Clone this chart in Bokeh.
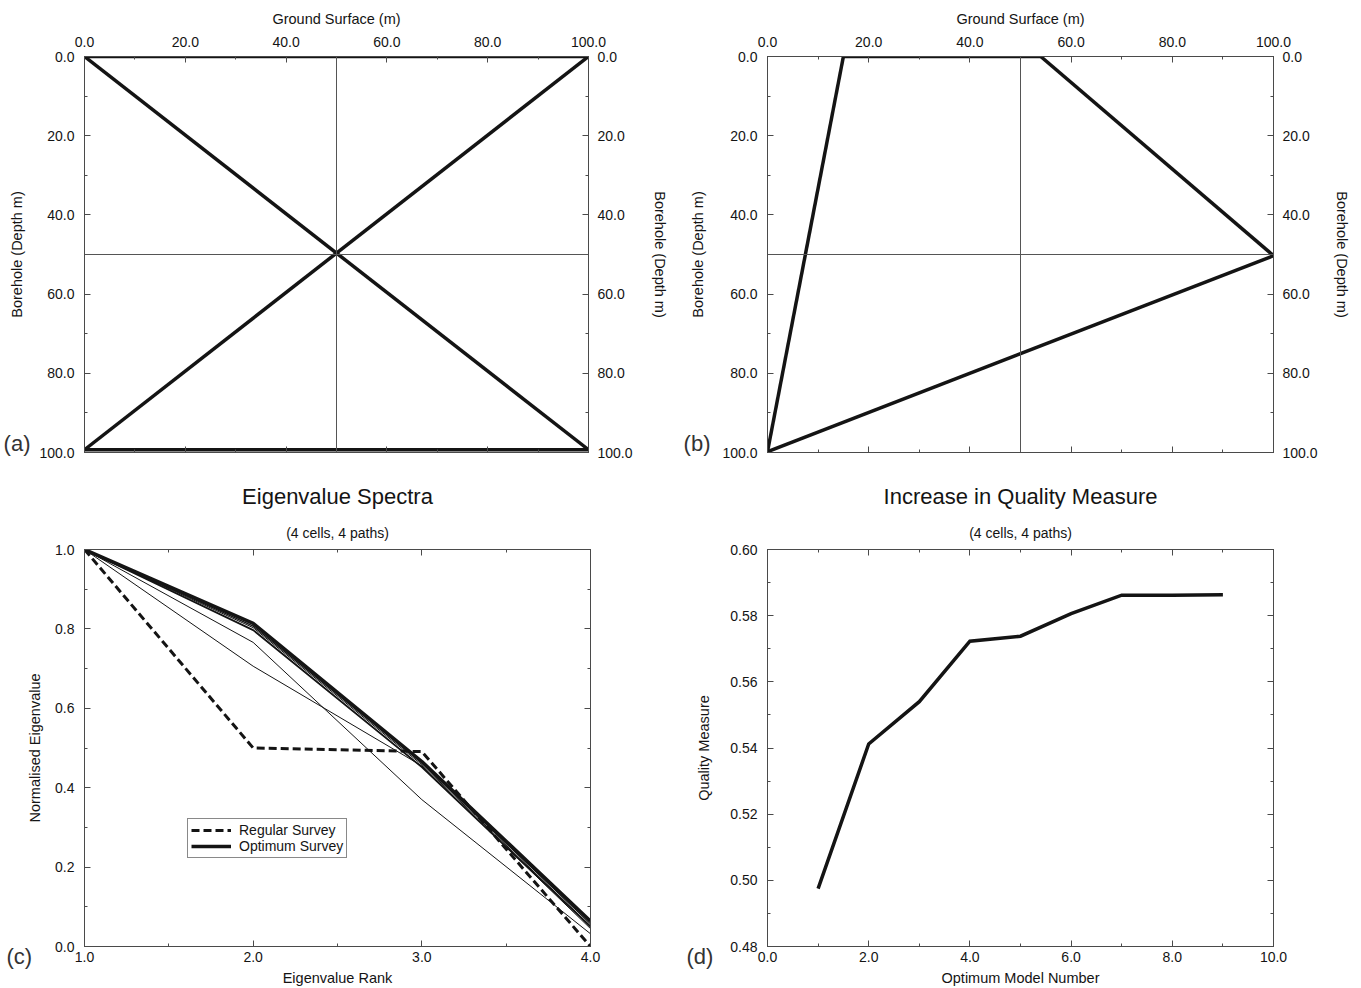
from bokeh.plotting import figure
from bokeh.models import (Range1d, LinearAxis, SingleIntervalTicker, FixedTicker, NumeralTickFormatter,
                          CustomJSTickFormatter, Span, Legend, LegendItem, Title)
from bokeh.layouts import row, column
from bokeh.embed import file_html
from bokeh.resources import INLINE

# ---------------- data ----------------
# panel (a): ray paths of the regular survey (ground surface x, depth y)
a_paths_x = [[0, 100], [0, 100], [100, 0], [0, 100]]
a_paths_y = [[0, 0], [0, 99.3], [0, 99.3], [99.3, 99.3]]
# panel (b): ray paths of the optimum survey
b_paths_x = [[15, 54], [15, 0], [54, 100], [100, 0]]
b_paths_y = [[0, 0], [0, 99.8], [0, 50.3], [50.3, 99.8]]
cell_boundary = 50

# panel (c): eigenvalue spectra
eig_rank = [1, 2, 3, 4]
regular_survey = [1.0, 0.500, 0.491, 0.000]
optimum_survey = [1.0, 0.814, 0.466, 0.064]
spectrum_1 = [1.0, 0.807, 0.462, 0.057]
spectrum_2 = [1.0, 0.803, 0.458, 0.052]
spectrum_3 = [1.0, 0.797, 0.452, 0.050]
spectrum_4 = [1.0, 0.766, 0.370, 0.032]
spectrum_5 = [1.0, 0.706, 0.455, 0.045]

# panel (d): quality measure
model_number = [1, 2, 3, 4, 5, 6, 7, 8, 9]
quality = [0.4975, 0.5412, 0.5540, 0.5723, 0.5738, 0.5806, 0.5862, 0.5862, 0.5863]

FONT = "Liberation Sans"
INK = "#141414"
AXC = "#4a4a4a"
LETTER_DEPTH = 97.7   # depth at which the panel letter sits, beside the left axis


def style_axis(ax, interval, fmt, labels=True, title=None, lstand=10, astand=10):
    ax.ticker = SingleIntervalTicker(interval=interval, num_minor_ticks=2)
    ax.major_tick_in = 6
    ax.major_tick_out = 0
    ax.minor_tick_in = 3
    ax.minor_tick_out = 0
    ax.axis_line_color = AXC
    ax.major_tick_line_color = AXC
    ax.minor_tick_line_color = AXC
    ax.major_label_text_font = FONT
    ax.major_label_text_font_size = "14px"
    ax.major_label_text_color = INK
    ax.major_label_standoff = lstand if labels else 0
    if labels:
        ax.formatter = NumeralTickFormatter(format=fmt)
    else:
        ax.formatter = CustomJSTickFormatter(code="return ''")
    if title:
        style_axis_label(ax, title, astand)


def style_axis_label(ax, title, astand):
    ax.axis_label = title
    ax.axis_label_text_font = FONT
    ax.axis_label_text_font_size = "14.5px"
    ax.axis_label_text_font_style = "normal"
    ax.axis_label_text_color = INK
    ax.axis_label_standoff = astand


def base_fig(w, h, xr, yr, xloc, borders):
    p = figure(width=w, height=h, x_range=xr, y_range=yr, x_axis_location=xloc,
               output_backend="svg", toolbar_location=None,
               min_border_left=borders[0], min_border_right=borders[1],
               min_border_top=borders[2], min_border_bottom=borders[3])
    p.grid.visible = False
    p.outline_line_color = AXC
    p.outline_line_width = 1
    p.background_fill_color = "white"
    p.border_fill_color = "white"
    return p


def survey_panel(w, borders, xs, ys, letter, letter_stand, label_stand, rstand):
    p = base_fig(w, 470, Range1d(0, 100), Range1d(100, 0), "above", borders)
    style_axis(p.xaxis[0], 20, "0.0", True, "Ground Surface (m)", 10, 7)
    style_axis(p.yaxis[0], 20, "0.0", True, None, 10)
    # outer left axis: carries the panel letter and the axis title
    outer = LinearAxis(ticker=FixedTicker(ticks=[LETTER_DEPTH]),
                       formatter=CustomJSTickFormatter(code="return '%s'" % letter),
                       axis_line_color=None, major_tick_in=0, major_tick_out=0,
                       minor_tick_in=0, minor_tick_out=0,
                       major_label_standoff=letter_stand,
                       major_label_text_font=FONT, major_label_text_font_size="22px",
                       major_label_text_color="#333333")
    style_axis_label(outer, "Borehole (Depth m)", label_stand)
    p.add_layout(outer, "left")
    bottom = LinearAxis()
    p.add_layout(bottom, "below")
    style_axis(bottom, 20, "0.0", False)
    right = LinearAxis()
    p.add_layout(right, "right")
    style_axis(right, 20, "0.0", True, "Borehole (Depth m)", 9, rstand)
    p.add_layout(Span(location=cell_boundary, dimension="height", line_color="#555555", line_width=1))
    p.add_layout(Span(location=cell_boundary, dimension="width", line_color="#555555", line_width=1))
    p.multi_line(xs=xs, ys=ys, line_color=INK, line_width=3.5, line_join="miter")
    return p


pa = survey_panel(680, (84, 92, 56, 18), a_paths_x, a_paths_y, "(a)", 6, -24, 16)
pb = survey_panel(681, (87, 88, 56, 18), b_paths_x, b_paths_y, "(b)", 9, -25, 13)


def lower_panel(w, borders, xr, yr, xint, xfmt, yint, yfmt, xlabel, ylabel, astand_y, title,
                letter, letter_off):
    p = base_fig(w, 518, xr, yr, "below", borders)
    style_axis(p.xaxis[0], xint, xfmt, True, xlabel, 5, 5)
    style_axis(p.yaxis[0], yint, yfmt, True, ylabel, 10, astand_y)
    top = LinearAxis()
    p.add_layout(top, "above")
    style_axis(top, xint, xfmt, False)
    right = LinearAxis()
    p.add_layout(right, "right")
    style_axis(right, yint, yfmt, False)
    p.add_layout(Title(text="(4 cells, 4 paths)", text_font=FONT, text_font_size="14px",
                       text_font_style="normal", text_color=INK, align="center",
                       standoff=18), "above")
    p.add_layout(Title(text=title, text_font=FONT, text_font_size="22px",
                       text_font_style="normal", text_color=INK, align="center",
                       standoff=9), "above")
    # panel letter: zero-height title placed between the frame and the x axis;
    # the empty first line pushes the letter down beside the axis labels
    lt = Title(text="\n" + letter, align="left", vertical_align="top", offset=letter_off,
               standoff=-56,
               text_font=FONT, text_font_size="22px", text_font_style="normal",
               text_color="#333333")
    p.below = [lt] + list(p.below)
    return p


pc = lower_panel(680, (84, 90, 79, 42), Range1d(1, 4), Range1d(0, 1), 1, "0.0", 0.2, "0.0",
                 "Eigenvalue Rank", "Normalised Eigenvalue", 9, "Eigenvalue Spectra", "(c)", -78)
pc.line(eig_rank, spectrum_5, line_color=INK, line_width=1)
pc.line(eig_rank, spectrum_4, line_color=INK, line_width=1)
pc.line(eig_rank, spectrum_3, line_color=INK, line_width=1.8)
pc.line(eig_rank, spectrum_2, line_color=INK, line_width=1)
pc.line(eig_rank, spectrum_1, line_color=INK, line_width=1.3)
r_opt = pc.line(eig_rank, optimum_survey, line_color=INK, line_width=3.5)
r_reg = pc.line(eig_rank, regular_survey, line_color=INK, line_width=3, line_dash="8 4")
legend = Legend(items=[LegendItem(label="Regular Survey", renderers=[r_reg]),
                       LegendItem(label="Optimum Survey", renderers=[r_opt])],
                location=(103, 88), padding=3, spacing=0, margin=0,
                glyph_width=40, glyph_height=16, label_height=16, label_standoff=8,
                label_text_font=FONT, label_text_font_size="14px", label_text_color=INK,
                border_line_color=INK, border_line_width=1, background_fill_alpha=1)
pc.add_layout(legend)

pd_ = lower_panel(681, (87, 88, 79, 42), Range1d(0, 10), Range1d(0.48, 0.60), 2, "0.0", 0.02, "0.00",
                  "Optimum Model Number", "Quality Measure", 15, "Increase in Quality Measure",
                  "(d)", -81)
pd_.line(model_number, quality, line_color=INK, line_width=3.5, line_join="miter")

layout = column(row(pa, pb), row(pc, pd_))
open("out.html", "w").write(file_html(layout, INLINE))
